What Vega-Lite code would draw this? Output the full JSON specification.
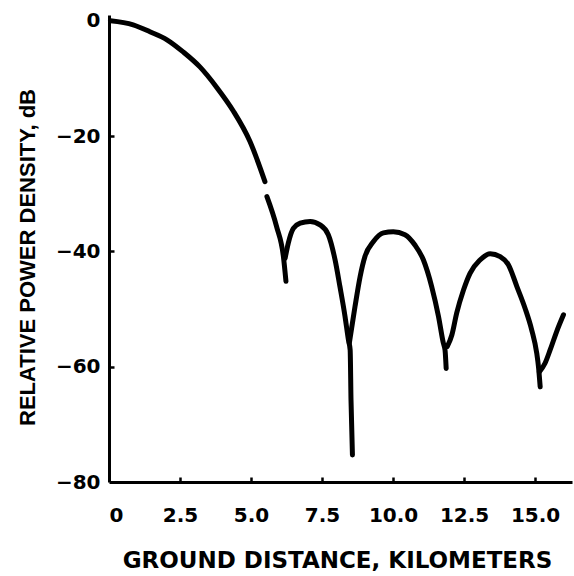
{
  "$schema": "https://vega.github.io/schema/vega-lite/v6.json",
  "width": 463,
  "height": 467,
  "autosize": {"type": "none"},
  "padding": {"left": 109, "top": 15, "right": 2, "bottom": 94},
  "background": "white",
  "config": {
    "view": {"stroke": null},
    "font": "DejaVu Sans",
    "axis": {
      "grid": false,
      "domainColor": "black",
      "domainWidth": 3,
      "tickColor": "black",
      "tickWidth": 2.5,
      "tickSize": 5,
      "labelFont": "DejaVu Sans",
      "labelFontWeight": "bold",
      "labelFontSize": 20,
      "labelColor": "black",
      "titleFont": "DejaVu Sans",
      "titleFontWeight": "bold",
      "titleFontSize": 23,
      "titleColor": "black"
    }
  },
  "data": {
    "values": [
      {"seg": "A", "km": 0.05, "db": 0.0},
      {"seg": "A", "km": 0.85, "db": -0.7},
      {"seg": "A", "km": 1.44, "db": -1.9},
      {"seg": "A", "km": 2.04, "db": -3.3},
      {"seg": "A", "km": 2.61, "db": -5.4},
      {"seg": "A", "km": 3.2, "db": -8.0},
      {"seg": "A", "km": 3.8, "db": -11.6},
      {"seg": "A", "km": 4.37, "db": -15.6},
      {"seg": "A", "km": 4.96, "db": -20.9},
      {"seg": "A", "km": 5.49, "db": -27.9},
      {"seg": "B", "km": 5.56, "db": -30.5},
      {"seg": "B", "km": 5.9, "db": -35.7},
      {"seg": "B", "km": 6.14, "db": -40.9},
      {"seg": "B", "km": 6.23, "db": -45.2},
      {"seg": "C", "km": 6.2, "db": -41.2},
      {"seg": "C", "km": 6.31, "db": -38.6},
      {"seg": "C", "km": 6.49, "db": -36.0},
      {"seg": "C", "km": 6.73, "db": -35.1},
      {"seg": "C", "km": 7.08, "db": -34.8},
      {"seg": "C", "km": 7.43, "db": -35.4},
      {"seg": "C", "km": 7.72, "db": -37.1},
      {"seg": "C", "km": 7.96, "db": -41.5},
      {"seg": "C", "km": 8.13, "db": -46.1},
      {"seg": "C", "km": 8.31, "db": -51.3},
      {"seg": "C", "km": 8.43, "db": -55.4},
      {"seg": "C", "km": 8.49, "db": -57.1},
      {"seg": "C", "km": 8.52, "db": -65.8},
      {"seg": "C", "km": 8.57, "db": -75.3},
      {"seg": "D", "km": 8.46, "db": -55.9},
      {"seg": "D", "km": 8.66, "db": -49.6},
      {"seg": "D", "km": 8.84, "db": -44.4},
      {"seg": "D", "km": 9.01, "db": -40.9},
      {"seg": "D", "km": 9.31, "db": -38.3},
      {"seg": "D", "km": 9.66, "db": -36.8},
      {"seg": "D", "km": 10.01, "db": -36.6},
      {"seg": "D", "km": 10.42, "db": -37.1},
      {"seg": "D", "km": 10.77, "db": -38.9},
      {"seg": "D", "km": 11.07, "db": -41.5},
      {"seg": "D", "km": 11.36, "db": -46.1},
      {"seg": "D", "km": 11.6, "db": -51.3},
      {"seg": "D", "km": 11.77, "db": -55.9},
      {"seg": "D", "km": 11.83, "db": -57.1},
      {"seg": "D", "km": 11.87, "db": -60.3},
      {"seg": "E", "km": 11.91, "db": -56.5},
      {"seg": "E", "km": 12.07, "db": -54.5},
      {"seg": "E", "km": 12.24, "db": -50.7},
      {"seg": "E", "km": 12.48, "db": -46.7},
      {"seg": "E", "km": 12.71, "db": -43.8},
      {"seg": "E", "km": 13.06, "db": -41.5},
      {"seg": "E", "km": 13.42, "db": -40.4},
      {"seg": "E", "km": 13.77, "db": -40.9},
      {"seg": "E", "km": 14.06, "db": -42.3},
      {"seg": "E", "km": 14.36, "db": -46.1},
      {"seg": "E", "km": 14.65, "db": -49.9},
      {"seg": "E", "km": 14.88, "db": -53.6},
      {"seg": "E", "km": 15.06, "db": -57.7},
      {"seg": "E", "km": 15.12, "db": -60.0},
      {"seg": "E", "km": 15.18, "db": -63.5},
      {"seg": "F", "km": 15.15, "db": -60.9},
      {"seg": "F", "km": 15.35, "db": -59.4},
      {"seg": "F", "km": 15.53, "db": -57.1},
      {"seg": "F", "km": 15.76, "db": -53.9},
      {"seg": "F", "km": 16.0, "db": -51.0}
    ]
  },
  "resolve": {"axis": {"x": "independent", "y": "independent"}},
  "layer": [
    {
      "mark": {"type": "line", "color": "black", "strokeWidth": 5, "strokeCap": "round", "strokeJoin": "round", "interpolate": "monotone", "clip": false},
      "encoding": {
        "x": {
          "field": "km",
          "type": "quantitative",
          "scale": {"domain": [0, 16.3], "nice": false, "zero": false},
          "axis": {
            "values": [0, 2.5, 5, 7.5, 10, 12.5, 15],
            "ticks": false,
            "labelExpr": "datum.value == 0 ? '0' : format(datum.value, '.1f')",
            "labelPadding": 23,
            "title": "GROUND DISTANCE, KILOMETERS",
            "titleBaseline": "middle",
            "titleX": 228,
            "titleY": 78
          }
        },
        "y": {
          "field": "db",
          "type": "quantitative",
          "scale": {"domain": [-80, 1], "nice": false, "zero": false},
          "axis": {
            "values": [0, -20, -40, -60, -80],
            "ticks": false,
            "format": "d",
            "labelPadding": 9,
            "title": "RELATIVE POWER DENSITY, dB",
            "titleFont": "Liberation Sans",
            "titleFontSize": 22,
            "titleAngle": -90,
            "titleBaseline": "middle",
            "titleX": -82,
            "titleY": 242
          }
        },
        "detail": {"field": "seg", "type": "nominal"}
      }
    },
    {
      "mark": {"type": "line", "opacity": 0, "clip": false},
      "encoding": {
        "x": {
          "field": "km",
          "type": "quantitative",
          "axis": {
            "orient": "top",
            "offset": -467,
            "values": [2.5, 5, 7.5, 10, 12.5, 15],
            "domain": false,
            "labels": false,
            "ticks": true,
            "tickSize": 5,
            "title": null
          }
        },
        "y": {
          "field": "db",
          "type": "quantitative",
          "axis": {
            "orient": "right",
            "offset": -463,
            "values": [-20, -40, -60],
            "domain": false,
            "labels": false,
            "ticks": true,
            "tickSize": 5,
            "title": null
          }
        },
        "detail": {"field": "seg", "type": "nominal"}
      }
    }
  ]
}
